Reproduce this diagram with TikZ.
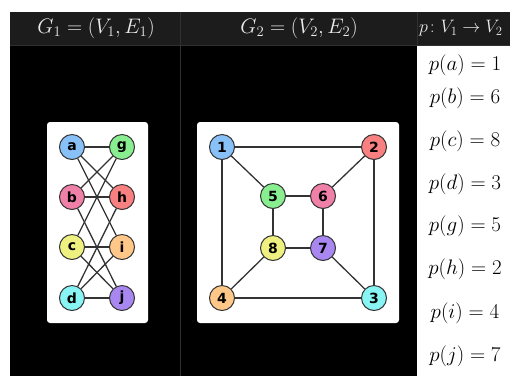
\RequirePackage{fix-cm}
\documentclass[tikz,border=0pt]{standalone}
\usepackage{amsmath}
\usepackage{fontspec}
\newfontfamily\vtxfont{DejaVu Sans}
\usetikzlibrary{positioning}
\definecolor{vblue}{HTML}{88C0F8}
\definecolor{vgreen}{HTML}{88EE90}
\definecolor{vpink}{HTML}{F080A8}
\definecolor{vred}{HTML}{F88080}
\definecolor{vyellow}{HTML}{EEF080}
\definecolor{vorange}{HTML}{FFC888}
\definecolor{vcyan}{HTML}{88F4F4}
\definecolor{vpurple}{HTML}{A888F0}
\definecolor{hdrgray}{HTML}{1C1C1C}
\definecolor{rulegray}{HTML}{303030}
\definecolor{edgegray}{HTML}{333333}

\begin{document}
\begin{tikzpicture}[x=1pt,y=-1pt,font=\fontsize{21}{24}\selectfont,
      v/.style={circle,draw=edgegray,line width=1pt,minimum size=25pt,inner sep=0pt,
        font=\vtxfont\bfseries\fontsize{14}{14}\selectfont},
      e/.style={draw=edgegray,line width=1.3pt},
      hdr/.style={text=white!92!black},
      panel/.style={fill=white,rounded corners=3pt}]
      \useasboundingbox (0,0) rectangle (510,376);
      \clip (0,0) rectangle (510,376);
      % table frame
      \fill[white] (0,0) rectangle (510,376);
      \fill[black] (10,45) rectangle (417,376);
      \fill[hdrgray] (10,12) rectangle (510,45);
      \draw[rulegray] (10,45) -- (510,45);
      \draw[rulegray] (180.5,12) -- (180.5,376);
      \draw[rulegray] (417,12) -- (417,45);
      \node[hdr] (h1) at (96,28.5) {$G_1=(V_1,E_1)$};
      \node[hdr] (h2) at (299,28.5) {$G_2=(V_2,E_2)$};
      \node[hdr,anchor=west,inner sep=2pt,font=\fontsize{18}{20}\selectfont] (h3) at (417,28.5) {$p\colon V_1\to V_2$};
      % G1
      \fill[panel] (47,122) rectangle (148,323);
      \node[v,fill=vblue] (a) at (72,147) {a};
      \node[v,fill=vpink] (b) at (72,197) {b};
      \node[v,fill=vyellow] (c) at (72,247) {c};
      \node[v,fill=vcyan] (d) at (72,298) {d};
      \node[v,fill=vgreen] (g) at (122,147) {g};
      \node[v,fill=vred] (h) at (122,197) {h};
      \node[v,fill=vorange] (i) at (122,247) {i};
      \node[v,fill=vpurple] (j) at (122,298) {j};
      \foreach \s/\t in {a/g,a/h,a/i,b/g,b/h,b/j,c/g,c/i,c/j,d/h,d/i,d/j}
        \draw[e] (\s) -- (\t);
      % G2
      \fill[panel] (197,122) rectangle (399,323);
      \node[v,fill=vblue] (n1) at (222,147) {1};
      \node[v,fill=vred] (n2) at (374,147) {2};
      \node[v,fill=vcyan] (n3) at (374,298) {3};
      \node[v,fill=vorange] (n4) at (222,298) {4};
      \node[v,fill=vgreen] (n5) at (273,196) {5};
      \node[v,fill=vpink] (n6) at (323,196) {6};
      \node[v,fill=vpurple] (n7) at (323,248) {7};
      \node[v,fill=vyellow] (n8) at (273,248) {8};
      \foreach \s/\t in {1/2,2/3,3/4,4/1,5/6,6/7,7/8,8/5,1/5,2/6,3/7,4/8}
        \draw[e] (n\s) -- (n\t);
      % mapping
      \foreach \s/\t/\y in {a/1/65,b/6/98,c/8/141,d/3/184,g/5/226,h/2/269,i/4/313,j/7/356}
        \node (p\s) at (465,\y) {$p(\s)=\t$};
    \end{tikzpicture}
\end{document}
